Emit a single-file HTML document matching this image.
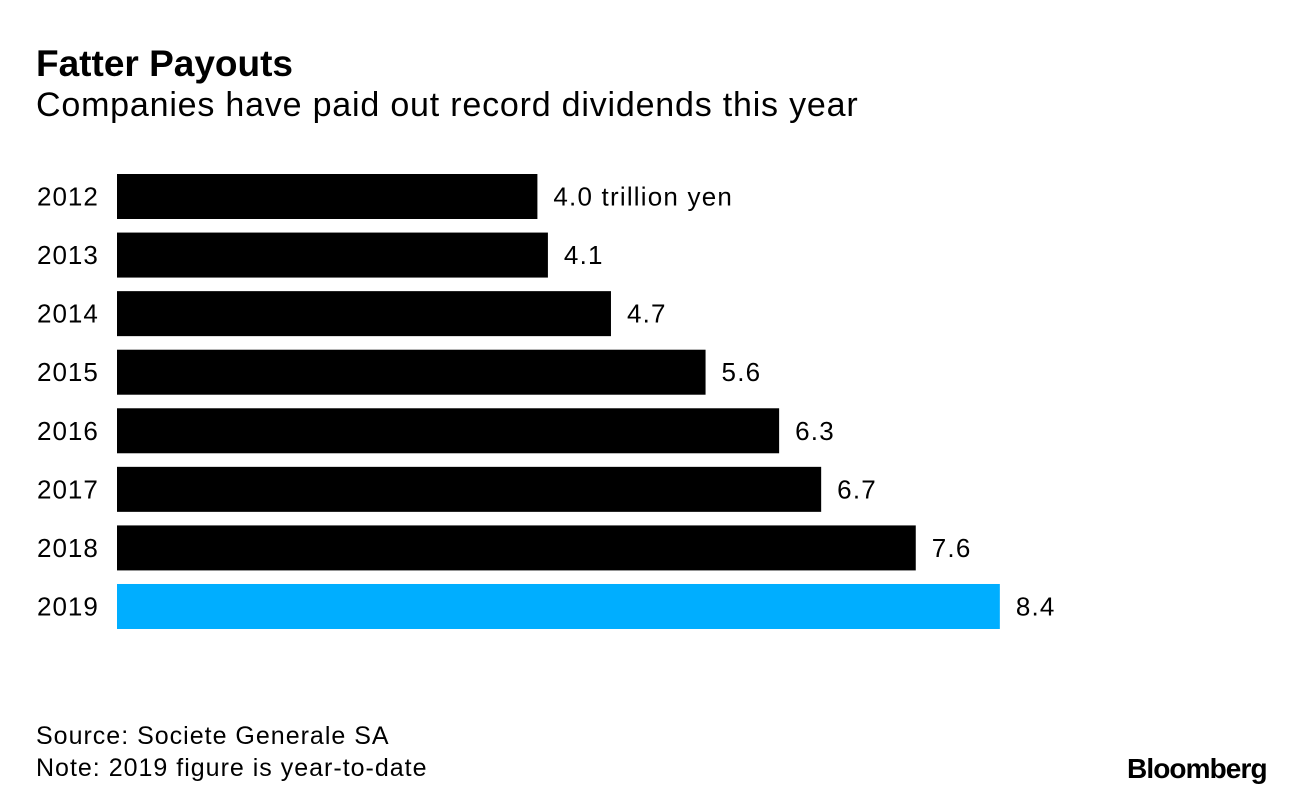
<!DOCTYPE html>
<html><head><meta charset="utf-8"><style>
body{margin:0;width:1296px;height:796px;background:#fff;font-family:"Liberation Sans",sans-serif;overflow:hidden;position:relative}
.t{position:absolute;white-space:nowrap;color:#000}
</style></head><body>
<div class="t" style="left:36px;top:43px;font-size:37px;font-weight:bold;letter-spacing:0px">Fatter Payouts</div>
<div class="t" style="left:36px;top:86px;font-size:34px;letter-spacing:0.8px">Companies have paid out record dividends this year</div>
<svg id="chart" width="1296" height="796" style="position:absolute;left:0;top:0"></svg>
<div class="t" style="left:36px;top:722px;font-size:25px;letter-spacing:1px">Source: Societe Generale SA</div>
<div class="t" style="left:36px;top:754px;font-size:25px;letter-spacing:1px">Note: 2019 figure is year-to-date</div>
<div class="t" style="left:1127px;top:753px;font-size:28px;font-weight:bold;letter-spacing:-0.9px">Bloomberg</div>
<script>
const categories=["2012","2013","2014","2015","2016","2017","2018","2019"];
const values=[4.0,4.1,4.7,5.6,6.3,6.7,7.6,8.4];
const valueLabels=["4.0 trillion yen","4.1","4.7","5.6","6.3","6.7","7.6","8.4"];
const svg=document.getElementById('chart');
const NS="http://www.w3.org/2000/svg";
const x0=117,scale=105.1,y0=174,pitch=58.57,bh=45;
function xs(v){return x0+v*scale;}
function ys(i){return y0+i*pitch;}
categories.forEach((c,i)=>{
  const r=document.createElementNS(NS,'rect');
  r.setAttribute('x',x0);r.setAttribute('y',ys(i));
  r.setAttribute('width',xs(values[i])-x0);r.setAttribute('height',bh);
  r.setAttribute('fill',i===categories.length-1?'#00aeff':'#000');
  
  
  svg.appendChild(r);
  const t=document.createElementNS(NS,'text');
  t.setAttribute('x',37);t.setAttribute('y',ys(i)+bh/2+9);
  t.setAttribute('font-size','26');t.setAttribute('letter-spacing','1');t.setAttribute('font-family','Liberation Sans, sans-serif');
  t.textContent=c;
  
  
  svg.appendChild(t);
  const v=document.createElementNS(NS,'text');
  v.setAttribute('x',xs(values[i])+16);v.setAttribute('y',ys(i)+bh/2+9);
  v.setAttribute('font-size','26');v.setAttribute('letter-spacing','1.2');v.setAttribute('font-family','Liberation Sans, sans-serif');
  v.textContent=valueLabels[i];
  
  
  svg.appendChild(v);
});
</script>
</body></html>
